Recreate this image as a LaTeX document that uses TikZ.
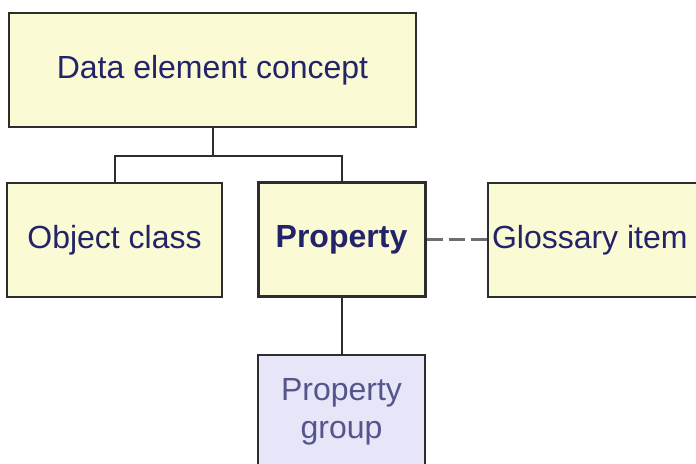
\documentclass[tikz,border=0pt]{standalone}
\usepackage{fontspec}
\setmainfont{Liberation Sans}
\usepackage{xcolor}
\usetikzlibrary{positioning}

\definecolor{boxfill}{RGB}{250,250,212}
\definecolor{grpfill}{RGB}{230,230,248}
\definecolor{ink}{RGB}{35,35,105}
\definecolor{grpink}{RGB}{85,85,140}
\definecolor{edge}{RGB}{45,45,45}
\definecolor{dashgray}{RGB}{110,110,110}

\tikzset{
	box/.style={draw=edge, line width=2bp, fill=boxfill, text=ink, inner sep=0pt,
		minimum height=114bp, font=\fontsize{32bp}{38bp}\selectfont},
	link/.style={draw=edge, line width=2bp},
}

\begin{document}
\begin{tikzpicture}[x=1bp,y=1bp]
	\useasboundingbox[fill=white] (0,0) rectangle (696,464);
	\node[box, minimum width=407bp] (dec) at (212.5,394) {Data element concept};
	\node[box, minimum width=215bp] (obj) at (114.5,224) {Object class};
	\path (obj) ++(227,0) node[box, minimum width=167bp, line width=3bp, font=\fontsize{32bp}{38bp}\selectfont\bfseries] (prop) {Property};
	\path (prop) ++(254,0) node[box, minimum width=215bp, inner xsep=4bp, text width=207bp, align=flush left] (glos) {Glossary item};
	\path (prop) ++(0,-172) node[box, minimum width=167bp, fill=grpfill, text=grpink, align=center] (pgrp) {Property\\group};
	%\node[box] (ctx) {Context};

	\draw[link] (dec.south) -- ++(0,-28) coordinate (fork);
	\draw[link] (obj.north) |- (fork) -| (prop.north);
	\draw[link, draw=dashgray, line width=3bp, dash pattern=on 16bp off 6bp] (prop) -- (glos);
	\draw[link] (prop) -- (pgrp);
\end{tikzpicture}
\end{document}
